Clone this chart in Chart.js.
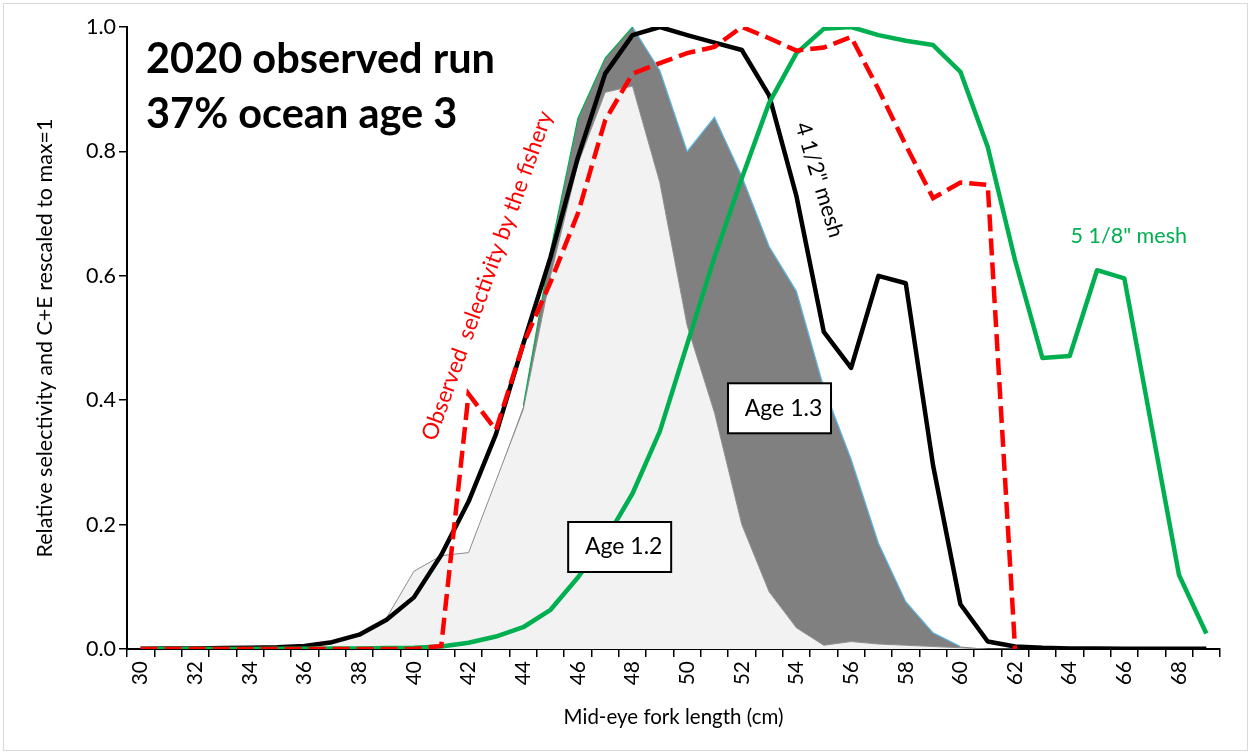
<!DOCTYPE html>
<html>
<head>
<meta charset="utf-8">
<title>Gillnet selectivity 2020</title>
<script src="https://cdn.jsdelivr.net/npm/chart.js@4.4.1/dist/chart.umd.min.js"></script>
<style>
  html, body { margin: 0; padding: 0; background: #fff; }
  #wrap { position: relative; width: 1251px; height: 754px; }
  #wrap:after {
    content: ''; position: absolute; left: 3px; top: 3px; right: 3px; bottom: 3px;
    border: 1.5px solid #d9d9d9; pointer-events: none;
  }
  canvas { display: block; }
</style>
</head>
<body>
<div id="wrap"><canvas id="selectivity" width="1251" height="754"></canvas></div>
<script>
// Mid-eye fork length classes (cm)
const lengths = [30, 31, 32, 33, 34, 35, 36, 37, 38, 39,
                 40, 41, 42, 43, 44, 45, 46, 47, 48, 49,
                 50, 51, 52, 53, 54, 55, 56, 57, 58, 59,
                 60, 61, 62, 63, 64, 65, 66, 67, 68, 69];

// C+E by age, stacked (rescaled so the combined peak is 1)
const age12 = [0, 0, 0, 0, 0.001, 0.002, 0.004, 0.01, 0.022, 0.05,
               0.125, 0.15, 0.155, 0.27, 0.385, 0.6, 0.78, 0.895, 0.905, 0.75,
               0.52, 0.38, 0.2, 0.092, 0.034, 0.006, 0.012, 0.008, 0.006, 0.004,
               0.002, 0, 0, 0, 0, 0, 0, 0, 0, 0];
const age13 = [0, 0, 0, 0, 0, 0, 0, 0, 0, 0,
               0, 0, 0, 0, 0.005, 0.04, 0.073, 0.055, 0.095, 0.18,
               0.28, 0.475, 0.56, 0.555, 0.541, 0.414, 0.293, 0.162, 0.07, 0.022,
               0.002, 0, 0, 0, 0, 0, 0, 0, 0, 0];

// Relative selectivity curves
const mesh412 = [0.0005, 0.0007, 0.001, 0.0015, 0.002, 0.003, 0.005, 0.011, 0.023, 0.047,
                 0.083, 0.151, 0.237, 0.345, 0.49, 0.63, 0.79, 0.925, 0.987, 1.0,
                 0.987, 0.975, 0.963, 0.89, 0.728, 0.51, 0.452, 0.6, 0.588, 0.295,
                 0.072, 0.012, 0.004, 0.002, 0.001, 0.001, 0.0005, 0.0005, 0.0005, 0.0005];
const mesh518 = [0, 0, 0, 0, 0, 0.0005, 0.0005, 0.001, 0.001, 0.0015,
                 0.002, 0.004, 0.01, 0.02, 0.035, 0.063, 0.115, 0.175, 0.25, 0.35,
                 0.49, 0.63, 0.757, 0.878, 0.958, 0.997, 1.0, 0.987, 0.978, 0.971,
                 0.928, 0.807, 0.625, 0.468, 0.471, 0.609, 0.596, 0.357, 0.119, 0.025];
const observed = [0, 0, 0, 0, 0, 0, 0, 0, 0, 0,
                  0, 0.005, 0.41, 0.352, 0.49, 0.59, 0.7, 0.85, 0.925, 0.942,
                  0.958, 0.968, 1.0, 0.982, 0.962, 0.967, 0.984, 0.9, 0.81, 0.725,
                  0.75, 0.746, 0, null, null, null, null, null, null, null];

const yTicks = [0, 0.2, 0.4, 0.6, 0.8, 1.0];

const FONT = 'Lato, "Open Sans", sans-serif';
const GREEN = '#00B050';
const RED = '#FF0000';
const EDGE_BLUE = '#5BB8E6';

// Titles, curve labels and boxed age labels
const annotations = {
  id: 'annotations',
  afterDatasetsDraw(chart) {
    const { ctx, chartArea, scales: { x, y } } = chart;
    const at = (cm, v) => [x.getPixelForValue(cm - lengths[0]), y.getPixelForValue(v)];

    ctx.save();
    ctx.fillStyle = '#000';
    ctx.textAlign = 'left';
    ctx.textBaseline = 'alphabetic';
    ctx.font = 'bold 41.5px ' + FONT;
    ctx.fillText('2020 observed run', chartArea.left + 19, chartArea.top + 46);
    ctx.fillText('37% ocean age 3', chartArea.left + 19, chartArea.top + 101);

    const rotated = (text, cm, v, deg, color, size) => {
      const [px, py] = at(cm, v);
      ctx.save();
      ctx.translate(px, py);
      ctx.rotate(deg * Math.PI / 180);
      ctx.fillStyle = color;
      ctx.font = size + 'px ' + FONT;
      ctx.textAlign = 'center';
      ctx.textBaseline = 'middle';
      ctx.fillText(text, 0, 0);
      ctx.restore();
    };
    rotated('Observed  selectivity by the fishery', 42.69, 0.6, -70.3, RED, 22.5);
    rotated('4 1/2" mesh', 54.83, 0.754, 73, '#000', 22);
    rotated('5 1/8" mesh', 66.16, 0.664, 0, GREEN, 21.5);

    const boxed = (text, cm, v) => {
      const [px, py] = at(cm, v);
      const w = 103, h = 50;
      ctx.fillStyle = '#fff';
      ctx.fillRect(px - w / 2, py - h / 2, w, h);
      ctx.strokeStyle = '#000';
      ctx.lineWidth = 2;
      ctx.strokeRect(px - w / 2, py - h / 2, w, h);
      ctx.fillStyle = '#000';
      ctx.font = '23px ' + FONT;
      ctx.textAlign = 'center';
      ctx.textBaseline = 'middle';
      ctx.fillText(text, px + 4, py);
    };
    boxed('Age 1.3', 53.38, 0.387);
    boxed('Age 1.2', 47.53, 0.164);
    ctx.restore();
  }
};

// thin outline of the Age 1.3 band: green on the rising side, blue on the falling side
function age13Edge(c) {
  const { chart } = c;
  const area = chart.chartArea;
  if (!area) return 'rgba(0,0,0,0)';
  const x = chart.scales.x;
  const w = area.right - area.left;
  const f = cm => Math.min(1, Math.max(0, (x.getPixelForValue(cm - lengths[0]) - area.left) / w));
  const g = chart.ctx.createLinearGradient(area.left, 0, area.right, 0);
  const none = 'rgba(0,0,0,0)';
  g.addColorStop(0, none);
  g.addColorStop(f(44), none);
  g.addColorStop(f(44), GREEN);
  g.addColorStop(f(48), GREEN);
  g.addColorStop(f(48), EDGE_BLUE);
  g.addColorStop(f(60), EDGE_BLUE);
  g.addColorStop(f(60), none);
  g.addColorStop(1, none);
  return g;
}

new Chart(document.getElementById('selectivity'), {
  type: 'line',
  data: {
    labels: lengths.map(String),
    datasets: [
      {
        label: 'Age 1.2', data: age12, stack: 'ages', fill: 'origin',
        backgroundColor: '#F2F2F2', borderColor: '#8c8c8c', borderWidth: 1,
        pointRadius: 0, order: 3
      },
      {
        label: 'Age 1.3', data: age13, stack: 'ages', fill: '-1',
        backgroundColor: '#808080', borderWidth: 1.2, borderColor: age13Edge,
        pointRadius: 0, order: 4
      },
      {
        label: '4 1/2" mesh', data: mesh412, stack: 'm412', fill: false,
        borderColor: '#000', borderWidth: 4.5, borderJoinStyle: 'round',
        pointRadius: 0, order: 2
      },
      {
        label: '5 1/8" mesh', data: mesh518, stack: 'm518', fill: false,
        borderColor: GREEN, borderWidth: 4.5, borderJoinStyle: 'round',
        pointRadius: 0, order: 1
      },
      {
        label: 'Observed selectivity', data: observed, stack: 'obs', fill: false,
        borderColor: RED, borderWidth: 4.5, borderDash: [17, 7],
        pointRadius: 0, order: 0
      }
    ]
  },
  options: {
    responsive: false,
    animation: false,
    devicePixelRatio: 1,
    layout: { padding: { top: 27, right: 31, left: 0, bottom: 0 } },
    plugins: {
      legend: { display: false },
      tooltip: { enabled: false }
    },
    scales: {
      x: {
        offset: true,
        grid: { offset: true, drawOnChartArea: false, drawTicks: true, tickLength: 8, color: '#000', lineWidth: 1.5 },
        border: { display: true, color: '#000', width: 2 },
        ticks: {
          autoSkip: false, minRotation: 90, maxRotation: 90, padding: 4,
          color: '#000', font: { family: FONT, size: 21 },
          callback: (v, i) => (i % 2 === 0 ? lengths[i] : '')
        },
        title: {
          display: true, text: 'Mid-eye fork length (cm)', color: '#000',
          font: { family: FONT, size: 20.5 }, padding: { top: 0, bottom: 24 }
        },
        afterFit: s => { s.height = 105; }
      },
      y: {
        stacked: true,
        min: 0, max: 1,
        grid: { drawOnChartArea: false, drawTicks: true, tickLength: 8, color: '#000', lineWidth: 1.5 },
        border: { display: true, color: '#000', width: 2 },
        afterBuildTicks: s => { s.ticks = yTicks.map(v => ({ value: v })); },
        ticks: {
          padding: 3, color: '#000', font: { family: FONT, size: 21.5 },
          callback: v => v.toFixed(1)
        },
        title: {
          display: true, text: 'Relative selectivity and C+E rescaled to max=1', color: '#000',
          font: { family: FONT, size: 21.5 }, padding: { top: 32, bottom: 0 }
        },
        afterFit: s => { s.width = 127; }
      }
    }
  },
  plugins: [annotations]
});
</script>
</body>
</html>
